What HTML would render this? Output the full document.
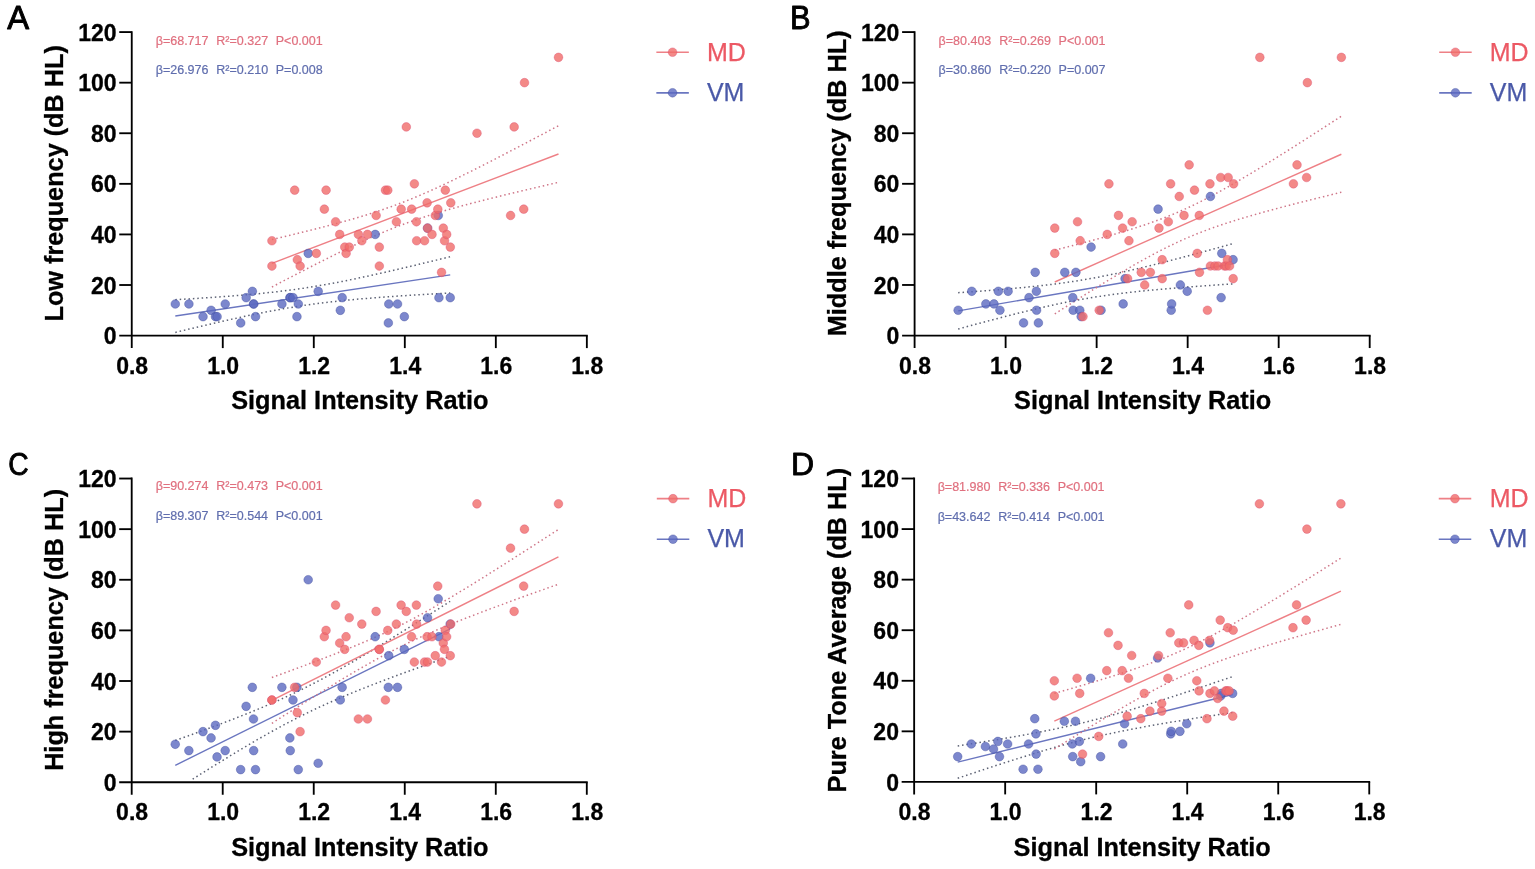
<!DOCTYPE html>
<html lang="en">
<head>
<meta charset="utf-8">
<title>Signal intensity ratio versus hearing thresholds in MD and VM</title>
<style>
html,body{margin:0;padding:0;background:#fff;}
body{width:1535px;height:869px;overflow:hidden;font-family:"Liberation Sans",sans-serif;}
svg{display:block;}
</style>
</head>
<body>
<svg width="1535" height="869" viewBox="0 0 1535 869" role="img" aria-label="Scatter plots of signal intensity ratio versus hearing thresholds for MD and VM groups">
<rect width="1535" height="869" fill="#fff"/>
<g id="panelA">
<line x1="175.30" y1="316.06" x2="450.23" y2="274.85" stroke="#6a76c0" stroke-width="1.4"/>
<polyline points="175.30,299.70 178.78,299.50 182.26,299.30 185.74,299.09 189.22,298.88 192.70,298.67 196.18,298.45 199.66,298.23 203.14,298.00 206.62,297.78 210.10,297.54 213.58,297.31 217.06,297.07 220.54,296.82 224.02,296.57 227.50,296.31 230.98,296.04 234.46,295.77 237.94,295.49 241.42,295.21 244.90,294.91 248.38,294.61 251.86,294.30 255.34,293.98 258.82,293.65 262.30,293.30 265.79,292.95 269.27,292.58 272.75,292.20 276.23,291.81 279.71,291.40 283.19,290.98 286.67,290.54 290.15,290.09 293.63,289.62 297.11,289.14 300.59,288.64 304.07,288.12 307.55,287.59 311.03,287.04 314.51,286.47 317.99,285.89 321.47,285.29 324.95,284.68 328.43,284.05 331.91,283.41 335.39,282.75 338.87,282.08 342.35,281.40 345.83,280.71 349.31,280.00 352.79,279.29 356.27,278.56 359.75,277.83 363.23,277.08 366.71,276.33 370.19,275.57 373.67,274.80 377.15,274.03 380.63,273.24 384.11,272.46 387.59,271.66 391.07,270.86 394.55,270.06 398.03,269.25 401.51,268.44 404.99,267.62 408.47,266.80 411.95,265.98 415.43,265.15 418.91,264.32 422.39,263.48 425.87,262.65 429.35,261.81 432.83,260.96 436.31,260.12 439.79,259.27 443.27,258.42 446.75,257.57 450.23,256.72" fill="none" stroke="#5d6274" stroke-width="1.5" stroke-dasharray="1.5 2.9"/>
<polyline points="175.30,332.42 178.78,331.58 182.26,330.74 185.74,329.91 189.22,329.07 192.70,328.24 196.18,327.42 199.66,326.59 203.14,325.77 206.62,324.96 210.10,324.15 213.58,323.34 217.06,322.54 220.54,321.74 224.02,320.95 227.50,320.17 230.98,319.39 234.46,318.62 237.94,317.85 241.42,317.09 244.90,316.34 248.38,315.60 251.86,314.87 255.34,314.15 258.82,313.44 262.30,312.74 265.79,312.05 269.27,311.37 272.75,310.71 276.23,310.06 279.71,309.42 283.19,308.80 286.67,308.19 290.15,307.60 293.63,307.03 297.11,306.47 300.59,305.93 304.07,305.40 307.55,304.89 311.03,304.40 314.51,303.92 317.99,303.46 321.47,303.01 324.95,302.58 328.43,302.17 331.91,301.76 335.39,301.38 338.87,301.00 342.35,300.64 345.83,300.29 349.31,299.95 352.79,299.63 356.27,299.31 359.75,299.00 363.23,298.70 366.71,298.41 370.19,298.13 373.67,297.85 377.15,297.58 380.63,297.32 384.11,297.07 387.59,296.82 391.07,296.57 394.55,296.33 398.03,296.10 401.51,295.87 404.99,295.64 408.47,295.42 411.95,295.20 415.43,294.98 418.91,294.77 422.39,294.56 425.87,294.36 429.35,294.15 432.83,293.95 436.31,293.75 439.79,293.55 443.27,293.36 446.75,293.17 450.23,292.98" fill="none" stroke="#5d6274" stroke-width="1.5" stroke-dasharray="1.5 2.9"/>
<line x1="271.92" y1="263.29" x2="558.50" y2="154.01" stroke="#ee8086" stroke-width="1.4"/>
<polyline points="271.92,239.56 275.55,238.71 279.18,237.84 282.80,236.98 286.43,236.11 290.06,235.24 293.69,234.36 297.31,233.47 300.94,232.58 304.57,231.69 308.20,230.79 311.82,229.88 315.45,228.97 319.08,228.05 322.71,227.11 326.33,226.17 329.96,225.23 333.59,224.26 337.22,223.29 340.84,222.31 344.47,221.31 348.10,220.30 351.73,219.27 355.35,218.22 358.98,217.16 362.61,216.07 366.24,214.96 369.86,213.83 373.49,212.68 377.12,211.50 380.75,210.29 384.37,209.06 388.00,207.79 391.63,206.50 395.26,205.17 398.89,203.81 402.51,202.42 406.14,201.00 409.77,199.54 413.40,198.06 417.02,196.54 420.65,195.00 424.28,193.42 427.91,191.82 431.53,190.20 435.16,188.55 438.79,186.88 442.42,185.19 446.04,183.48 449.67,181.75 453.30,180.01 456.93,178.25 460.55,176.47 464.18,174.68 467.81,172.88 471.44,171.07 475.06,169.25 478.69,167.42 482.32,165.58 485.95,163.73 489.57,161.87 493.20,160.01 496.83,158.14 500.46,156.27 504.08,154.39 507.71,152.50 511.34,150.61 514.97,148.72 518.59,146.82 522.22,144.91 525.85,143.01 529.48,141.10 533.10,139.19 536.73,137.27 540.36,135.35 543.99,133.43 547.61,131.51 551.24,129.58 554.87,127.65 558.50,125.72" fill="none" stroke="#cf7688" stroke-width="1.5" stroke-dasharray="1.5 2.9"/>
<polyline points="271.92,287.02 275.55,285.11 279.18,283.21 282.80,281.31 286.43,279.41 290.06,277.52 293.69,275.63 297.31,273.75 300.94,271.87 304.57,270.00 308.20,268.13 311.82,266.27 315.45,264.42 319.08,262.57 322.71,260.74 326.33,258.91 329.96,257.09 333.59,255.29 337.22,253.49 340.84,251.71 344.47,249.94 348.10,248.19 351.73,246.45 355.35,244.73 358.98,243.03 362.61,241.35 366.24,239.69 369.86,238.05 373.49,236.44 377.12,234.85 380.75,233.29 384.37,231.76 388.00,230.26 391.63,228.79 395.26,227.35 398.89,225.94 402.51,224.57 406.14,223.22 409.77,221.91 413.40,220.63 417.02,219.38 420.65,218.16 424.28,216.96 427.91,215.80 431.53,214.65 435.16,213.54 438.79,212.44 442.42,211.36 446.04,210.31 449.67,209.27 453.30,208.25 456.93,207.24 460.55,206.25 464.18,205.27 467.81,204.31 471.44,203.35 475.06,202.41 478.69,201.47 482.32,200.54 485.95,199.63 489.57,198.71 493.20,197.81 496.83,196.91 500.46,196.02 504.08,195.13 507.71,194.25 511.34,193.38 514.97,192.51 518.59,191.64 522.22,190.77 525.85,189.91 529.48,189.06 533.10,188.20 536.73,187.35 540.36,186.51 543.99,185.66 547.61,184.82 551.24,183.98 554.87,183.14 558.50,182.30" fill="none" stroke="#cf7688" stroke-width="1.5" stroke-dasharray="1.5 2.9"/>
<g fill="#5b69c0" fill-opacity="0.8" stroke="#3a4799" stroke-opacity="0.55" stroke-width="0.7">
<circle cx="175.30" cy="303.98" r="4.35"/>
<circle cx="188.91" cy="303.98" r="4.35"/>
<circle cx="203.02" cy="316.63" r="4.35"/>
<circle cx="211.12" cy="310.31" r="4.35"/>
<circle cx="215.49" cy="316.63" r="4.35"/>
<circle cx="217.08" cy="316.63" r="4.35"/>
<circle cx="225.23" cy="303.98" r="4.35"/>
<circle cx="240.70" cy="322.95" r="4.35"/>
<circle cx="246.16" cy="297.66" r="4.35"/>
<circle cx="252.35" cy="291.34" r="4.35"/>
<circle cx="253.53" cy="303.98" r="4.35"/>
<circle cx="253.72" cy="303.98" r="4.35"/>
<circle cx="255.54" cy="316.63" r="4.35"/>
<circle cx="281.93" cy="303.98" r="4.35"/>
<circle cx="289.90" cy="297.66" r="4.35"/>
<circle cx="290.31" cy="297.66" r="4.35"/>
<circle cx="293.04" cy="297.66" r="4.35"/>
<circle cx="296.95" cy="316.63" r="4.35"/>
<circle cx="298.32" cy="303.98" r="4.35"/>
<circle cx="308.24" cy="253.40" r="4.35"/>
<circle cx="318.20" cy="291.34" r="4.35"/>
<circle cx="340.32" cy="310.31" r="4.35"/>
<circle cx="342.19" cy="297.66" r="4.35"/>
<circle cx="375.23" cy="234.43" r="4.35"/>
<circle cx="388.34" cy="322.95" r="4.35"/>
<circle cx="388.79" cy="303.98" r="4.35"/>
<circle cx="397.53" cy="303.98" r="4.35"/>
<circle cx="404.35" cy="316.63" r="4.35"/>
<circle cx="427.56" cy="228.10" r="4.35"/>
<circle cx="438.26" cy="215.46" r="4.35"/>
<circle cx="438.94" cy="297.66" r="4.35"/>
<circle cx="450.23" cy="297.66" r="4.35"/>
</g>
<g fill="#f06c69" fill-opacity="0.8" stroke="#d94a70" stroke-opacity="0.55" stroke-width="0.7">
<circle cx="271.92" cy="266.04" r="4.35"/>
<circle cx="271.92" cy="240.75" r="4.35"/>
<circle cx="294.68" cy="190.16" r="4.35"/>
<circle cx="297.32" cy="259.72" r="4.35"/>
<circle cx="300.14" cy="266.04" r="4.35"/>
<circle cx="316.34" cy="253.40" r="4.35"/>
<circle cx="324.35" cy="209.13" r="4.35"/>
<circle cx="326.08" cy="190.16" r="4.35"/>
<circle cx="335.63" cy="221.78" r="4.35"/>
<circle cx="339.73" cy="234.43" r="4.35"/>
<circle cx="344.74" cy="247.07" r="4.35"/>
<circle cx="346.10" cy="253.40" r="4.35"/>
<circle cx="349.29" cy="247.07" r="4.35"/>
<circle cx="358.39" cy="234.43" r="4.35"/>
<circle cx="361.85" cy="240.75" r="4.35"/>
<circle cx="367.49" cy="234.43" r="4.35"/>
<circle cx="376.14" cy="215.46" r="4.35"/>
<circle cx="379.32" cy="247.07" r="4.35"/>
<circle cx="379.32" cy="266.04" r="4.35"/>
<circle cx="385.47" cy="190.16" r="4.35"/>
<circle cx="387.79" cy="190.16" r="4.35"/>
<circle cx="396.39" cy="221.78" r="4.35"/>
<circle cx="401.17" cy="209.13" r="4.35"/>
<circle cx="406.31" cy="126.93" r="4.35"/>
<circle cx="411.64" cy="209.13" r="4.35"/>
<circle cx="414.37" cy="183.84" r="4.35"/>
<circle cx="416.42" cy="221.78" r="4.35"/>
<circle cx="416.64" cy="240.75" r="4.35"/>
<circle cx="424.56" cy="240.75" r="4.35"/>
<circle cx="427.11" cy="202.81" r="4.35"/>
<circle cx="427.56" cy="228.10" r="4.35"/>
<circle cx="432.02" cy="234.43" r="4.35"/>
<circle cx="435.30" cy="215.46" r="4.35"/>
<circle cx="437.80" cy="209.13" r="4.35"/>
<circle cx="441.54" cy="272.37" r="4.35"/>
<circle cx="443.31" cy="228.10" r="4.35"/>
<circle cx="444.54" cy="240.75" r="4.35"/>
<circle cx="445.31" cy="190.16" r="4.35"/>
<circle cx="446.68" cy="234.43" r="4.35"/>
<circle cx="450.32" cy="247.07" r="4.35"/>
<circle cx="450.78" cy="202.81" r="4.35"/>
<circle cx="476.99" cy="133.25" r="4.35"/>
<circle cx="510.58" cy="215.46" r="4.35"/>
<circle cx="514.17" cy="126.93" r="4.35"/>
<circle cx="523.73" cy="209.13" r="4.35"/>
<circle cx="524.50" cy="82.67" r="4.35"/>
<circle cx="558.50" cy="57.37" r="4.35"/>
</g>
<g stroke="#000" stroke-width="1.85" fill="none">
<path d="M131.75 31.15V348.10"/>
<path d="M119.25 335.60H587.77"/>
<path d="M119.25 285.01H131.75"/>
<path d="M119.25 234.43H131.75"/>
<path d="M119.25 183.84H131.75"/>
<path d="M119.25 133.25H131.75"/>
<path d="M119.25 82.67H131.75"/>
<path d="M119.25 32.08H131.75"/>
<path d="M222.77 335.60V348.10"/>
<path d="M313.79 335.60V348.10"/>
<path d="M404.81 335.60V348.10"/>
<path d="M495.83 335.60V348.10"/>
<path d="M586.85 335.60V348.10"/>
</g>
<g font-family="'Liberation Sans', sans-serif" font-weight="bold" font-size="23" fill="#000" stroke="#000" stroke-width="0.3">
<text x="116.55" y="344.20" text-anchor="end">0</text>
<text x="116.55" y="293.61" text-anchor="end">20</text>
<text x="116.55" y="243.03" text-anchor="end">40</text>
<text x="116.55" y="192.44" text-anchor="end">60</text>
<text x="116.55" y="141.85" text-anchor="end">80</text>
<text x="116.55" y="91.27" text-anchor="end">100</text>
<text x="116.55" y="40.68" text-anchor="end">120</text>
<text x="132.15" y="373.60" text-anchor="middle">0.8</text>
<text x="223.17" y="373.60" text-anchor="middle">1.0</text>
<text x="314.19" y="373.60" text-anchor="middle">1.2</text>
<text x="405.21" y="373.60" text-anchor="middle">1.4</text>
<text x="496.23" y="373.60" text-anchor="middle">1.6</text>
<text x="587.25" y="373.60" text-anchor="middle">1.8</text>
</g>
<g font-family="'Liberation Sans', sans-serif" font-weight="bold" font-size="25.3" fill="#000" stroke="#000" stroke-width="0.3">
<text x="359.80" y="409.20" text-anchor="middle">Signal Intensity Ratio</text>
<text transform="translate(63.05 183.34) rotate(-90)" text-anchor="middle" font-size="25.25">Low frequency (dB HL)</text>
</g>
<text font-family="'Liberation Sans', sans-serif" font-size="12.5" fill="#e0707f" stroke="#e0707f" stroke-width="0.2" y="45.08"><tspan x="155.75">β=68.717</tspan><tspan x="216.35">R²=0.327</tspan><tspan x="275.75">P<0.001</tspan></text>
<text font-family="'Liberation Sans', sans-serif" font-size="12.5" fill="#606eae" stroke="#606eae" stroke-width="0.2" y="73.88"><tspan x="155.75">β=26.976</tspan><tspan x="216.35">R²=0.210</tspan><tspan x="275.75">P=0.008</tspan></text>
<line x1="656.35" y1="52.23" x2="688.85" y2="52.23" stroke="#ee8086" stroke-width="1.7"/>
<circle cx="672.55" cy="52.23" r="4.35" fill="#f06c69" fill-opacity="0.8" stroke="#d94a70" stroke-opacity="0.55" stroke-width="0.7"/>
<text x="706.95" y="61.33" font-family="'Liberation Sans', sans-serif" font-size="25" fill="#ec5964" stroke="#ec5964" stroke-width="0.25">MD</text>
<line x1="656.35" y1="92.78" x2="688.85" y2="92.78" stroke="#6a76c0" stroke-width="1.7"/>
<circle cx="672.55" cy="92.78" r="4.35" fill="#5b69c0" fill-opacity="0.8" stroke="#3a4799" stroke-opacity="0.55" stroke-width="0.7"/>
<text x="706.95" y="101.38" font-family="'Liberation Sans', sans-serif" font-size="25" fill="#4a59a8" stroke="#4a59a8" stroke-width="0.25">VM</text>
<text transform="translate(7.30 29.00) scale(1 1)" font-family="'Liberation Sans', sans-serif" font-size="32.8" fill="#000" stroke="#000" stroke-width="0.9" stroke-linejoin="round">A</text>
</g>
<g id="panelB">
<line x1="958.15" y1="310.89" x2="1233.08" y2="263.73" stroke="#6a76c0" stroke-width="1.4"/>
<polyline points="958.15,292.71 961.63,292.47 965.11,292.23 968.59,291.98 972.07,291.73 975.55,291.47 979.03,291.21 982.51,290.95 985.99,290.69 989.47,290.41 992.95,290.14 996.43,289.86 999.91,289.57 1003.39,289.28 1006.87,288.98 1010.35,288.68 1013.83,288.37 1017.31,288.05 1020.79,287.72 1024.27,287.39 1027.75,287.04 1031.23,286.69 1034.71,286.33 1038.19,285.95 1041.67,285.57 1045.15,285.17 1048.64,284.76 1052.12,284.33 1055.60,283.89 1059.08,283.44 1062.56,282.97 1066.04,282.48 1069.52,281.98 1073.00,281.46 1076.48,280.92 1079.96,280.37 1083.44,279.79 1086.92,279.20 1090.40,278.59 1093.88,277.96 1097.36,277.32 1100.84,276.65 1104.32,275.97 1107.80,275.27 1111.28,274.56 1114.76,273.83 1118.24,273.08 1121.72,272.32 1125.20,271.55 1128.68,270.76 1132.16,269.96 1135.64,269.14 1139.12,268.32 1142.60,267.49 1146.08,266.64 1149.56,265.79 1153.04,264.93 1156.52,264.05 1160.00,263.18 1163.48,262.29 1166.96,261.40 1170.44,260.50 1173.92,259.59 1177.40,258.68 1180.88,257.77 1184.36,256.85 1187.84,255.92 1191.32,254.99 1194.80,254.06 1198.28,253.12 1201.76,252.18 1205.24,251.24 1208.72,250.29 1212.20,249.34 1215.68,248.39 1219.16,247.43 1222.64,246.47 1226.12,245.51 1229.60,244.55 1233.08,243.59" fill="none" stroke="#5d6274" stroke-width="1.5" stroke-dasharray="1.5 2.9"/>
<polyline points="958.15,329.06 961.63,328.11 965.11,327.16 968.59,326.21 972.07,325.27 975.55,324.33 979.03,323.39 982.51,322.46 985.99,321.53 989.47,320.61 992.95,319.69 996.43,318.78 999.91,317.87 1003.39,316.97 1006.87,316.07 1010.35,315.18 1013.83,314.30 1017.31,313.43 1020.79,312.56 1024.27,311.70 1027.75,310.85 1031.23,310.01 1034.71,309.18 1038.19,308.36 1041.67,307.55 1045.15,306.76 1048.64,305.97 1052.12,305.21 1055.60,304.45 1059.08,303.71 1062.56,302.99 1066.04,302.28 1069.52,301.59 1073.00,300.91 1076.48,300.26 1079.96,299.62 1083.44,299.00 1086.92,298.39 1090.40,297.81 1093.88,297.24 1097.36,296.70 1100.84,296.17 1104.32,295.65 1107.80,295.16 1111.28,294.68 1114.76,294.22 1118.24,293.77 1121.72,293.34 1125.20,292.92 1128.68,292.51 1132.16,292.12 1135.64,291.74 1139.12,291.37 1142.60,291.01 1146.08,290.66 1149.56,290.32 1153.04,289.99 1156.52,289.66 1160.00,289.35 1163.48,289.04 1166.96,288.74 1170.44,288.44 1173.92,288.15 1177.40,287.87 1180.88,287.59 1184.36,287.32 1187.84,287.05 1191.32,286.78 1194.80,286.52 1198.28,286.27 1201.76,286.01 1205.24,285.76 1208.72,285.52 1212.20,285.27 1215.68,285.03 1219.16,284.79 1222.64,284.56 1226.12,284.32 1229.60,284.09 1233.08,283.86" fill="none" stroke="#5d6274" stroke-width="1.5" stroke-dasharray="1.5 2.9"/>
<line x1="1054.77" y1="282.01" x2="1341.35" y2="154.24" stroke="#ee8086" stroke-width="1.4"/>
<polyline points="1054.77,250.11 1058.40,249.19 1062.03,248.28 1065.65,247.36 1069.28,246.43 1072.91,245.50 1076.54,244.56 1080.16,243.61 1083.79,242.66 1087.42,241.70 1091.05,240.73 1094.67,239.76 1098.30,238.77 1101.93,237.77 1105.56,236.76 1109.18,235.74 1112.81,234.71 1116.44,233.66 1120.07,232.59 1123.69,231.51 1127.32,230.41 1130.95,229.29 1134.58,228.15 1138.20,226.99 1141.83,225.80 1145.46,224.58 1149.09,223.34 1152.71,222.06 1156.34,220.75 1159.97,219.41 1163.60,218.03 1167.22,216.61 1170.85,215.15 1174.48,213.65 1178.11,212.11 1181.74,210.52 1185.36,208.89 1188.99,207.22 1192.62,205.51 1196.25,203.76 1199.87,201.96 1203.50,200.13 1207.13,198.26 1210.76,196.35 1214.38,194.41 1218.01,192.43 1221.64,190.43 1225.27,188.40 1228.89,186.34 1232.52,184.26 1236.15,182.16 1239.78,180.03 1243.40,177.89 1247.03,175.73 1250.66,173.55 1254.29,171.36 1257.91,169.15 1261.54,166.93 1265.17,164.70 1268.80,162.46 1272.42,160.20 1276.05,157.94 1279.68,155.67 1283.31,153.39 1286.93,151.11 1290.56,148.81 1294.19,146.52 1297.82,144.21 1301.44,141.90 1305.07,139.58 1308.70,137.26 1312.33,134.94 1315.95,132.61 1319.58,130.28 1323.21,127.94 1326.84,125.60 1330.46,123.25 1334.09,120.91 1337.72,118.56 1341.35,116.21" fill="none" stroke="#cf7688" stroke-width="1.5" stroke-dasharray="1.5 2.9"/>
<polyline points="1054.77,313.91 1058.40,311.58 1062.03,309.27 1065.65,306.95 1069.28,304.65 1072.91,302.34 1076.54,300.05 1080.16,297.76 1083.79,295.48 1087.42,293.20 1091.05,290.93 1094.67,288.68 1098.30,286.43 1101.93,284.19 1105.56,281.97 1109.18,279.75 1112.81,277.55 1116.44,275.37 1120.07,273.20 1123.69,271.04 1127.32,268.91 1130.95,266.79 1134.58,264.70 1138.20,262.63 1141.83,260.59 1145.46,258.57 1149.09,256.58 1152.71,254.62 1156.34,252.69 1159.97,250.80 1163.60,248.95 1167.22,247.13 1170.85,245.36 1174.48,243.62 1178.11,241.93 1181.74,240.28 1185.36,238.67 1188.99,237.11 1192.62,235.59 1196.25,234.11 1199.87,232.67 1203.50,231.27 1207.13,229.90 1210.76,228.58 1214.38,227.28 1218.01,226.02 1221.64,224.79 1225.27,223.59 1228.89,222.41 1232.52,221.26 1236.15,220.13 1239.78,219.02 1243.40,217.93 1247.03,216.85 1250.66,215.80 1254.29,214.75 1257.91,213.73 1261.54,212.71 1265.17,211.71 1268.80,210.71 1272.42,209.73 1276.05,208.76 1279.68,207.79 1283.31,206.84 1286.93,205.89 1290.56,204.95 1294.19,204.01 1297.82,203.08 1301.44,202.16 1305.07,201.24 1308.70,200.33 1312.33,199.42 1315.95,198.51 1319.58,197.61 1323.21,196.71 1326.84,195.82 1330.46,194.93 1334.09,194.04 1337.72,193.15 1341.35,192.27" fill="none" stroke="#cf7688" stroke-width="1.5" stroke-dasharray="1.5 2.9"/>
<g fill="#5b69c0" fill-opacity="0.8" stroke="#3a4799" stroke-opacity="0.55" stroke-width="0.7">
<circle cx="958.15" cy="310.26" r="4.35"/>
<circle cx="971.76" cy="291.29" r="4.35"/>
<circle cx="985.87" cy="303.94" r="4.35"/>
<circle cx="993.97" cy="303.94" r="4.35"/>
<circle cx="998.34" cy="291.29" r="4.35"/>
<circle cx="999.93" cy="310.26" r="4.35"/>
<circle cx="1008.08" cy="291.29" r="4.35"/>
<circle cx="1023.55" cy="322.91" r="4.35"/>
<circle cx="1029.01" cy="297.62" r="4.35"/>
<circle cx="1035.20" cy="272.33" r="4.35"/>
<circle cx="1036.38" cy="291.29" r="4.35"/>
<circle cx="1036.57" cy="310.26" r="4.35"/>
<circle cx="1038.39" cy="322.91" r="4.35"/>
<circle cx="1064.78" cy="272.33" r="4.35"/>
<circle cx="1072.75" cy="297.62" r="4.35"/>
<circle cx="1073.16" cy="310.26" r="4.35"/>
<circle cx="1075.89" cy="272.33" r="4.35"/>
<circle cx="1079.80" cy="310.26" r="4.35"/>
<circle cx="1081.17" cy="316.58" r="4.35"/>
<circle cx="1091.09" cy="247.04" r="4.35"/>
<circle cx="1101.05" cy="310.26" r="4.35"/>
<circle cx="1123.17" cy="303.94" r="4.35"/>
<circle cx="1125.04" cy="278.65" r="4.35"/>
<circle cx="1158.08" cy="209.10" r="4.35"/>
<circle cx="1171.19" cy="310.26" r="4.35"/>
<circle cx="1171.64" cy="303.94" r="4.35"/>
<circle cx="1180.38" cy="284.97" r="4.35"/>
<circle cx="1187.20" cy="291.29" r="4.35"/>
<circle cx="1210.41" cy="196.46" r="4.35"/>
<circle cx="1221.11" cy="297.62" r="4.35"/>
<circle cx="1221.79" cy="253.36" r="4.35"/>
<circle cx="1233.08" cy="259.68" r="4.35"/>
</g>
<g fill="#f06c69" fill-opacity="0.8" stroke="#d94a70" stroke-opacity="0.55" stroke-width="0.7">
<circle cx="1054.77" cy="228.07" r="4.35"/>
<circle cx="1054.77" cy="253.36" r="4.35"/>
<circle cx="1077.53" cy="221.75" r="4.35"/>
<circle cx="1080.17" cy="240.72" r="4.35"/>
<circle cx="1082.99" cy="316.58" r="4.35"/>
<circle cx="1099.19" cy="310.26" r="4.35"/>
<circle cx="1107.20" cy="234.39" r="4.35"/>
<circle cx="1108.93" cy="183.81" r="4.35"/>
<circle cx="1118.48" cy="215.43" r="4.35"/>
<circle cx="1122.58" cy="228.07" r="4.35"/>
<circle cx="1127.59" cy="278.65" r="4.35"/>
<circle cx="1128.95" cy="240.72" r="4.35"/>
<circle cx="1132.14" cy="221.75" r="4.35"/>
<circle cx="1141.24" cy="272.33" r="4.35"/>
<circle cx="1144.70" cy="284.97" r="4.35"/>
<circle cx="1150.34" cy="272.33" r="4.35"/>
<circle cx="1158.99" cy="228.07" r="4.35"/>
<circle cx="1162.17" cy="259.68" r="4.35"/>
<circle cx="1162.17" cy="278.65" r="4.35"/>
<circle cx="1168.32" cy="221.75" r="4.35"/>
<circle cx="1170.64" cy="183.81" r="4.35"/>
<circle cx="1179.24" cy="196.46" r="4.35"/>
<circle cx="1184.02" cy="215.43" r="4.35"/>
<circle cx="1189.16" cy="164.85" r="4.35"/>
<circle cx="1194.49" cy="190.14" r="4.35"/>
<circle cx="1197.22" cy="253.36" r="4.35"/>
<circle cx="1199.27" cy="215.43" r="4.35"/>
<circle cx="1199.49" cy="272.33" r="4.35"/>
<circle cx="1207.41" cy="310.26" r="4.35"/>
<circle cx="1209.96" cy="183.81" r="4.35"/>
<circle cx="1210.41" cy="266.00" r="4.35"/>
<circle cx="1214.87" cy="266.00" r="4.35"/>
<circle cx="1218.15" cy="266.00" r="4.35"/>
<circle cx="1220.65" cy="177.49" r="4.35"/>
<circle cx="1224.39" cy="266.00" r="4.35"/>
<circle cx="1226.16" cy="266.00" r="4.35"/>
<circle cx="1227.39" cy="259.68" r="4.35"/>
<circle cx="1228.16" cy="177.49" r="4.35"/>
<circle cx="1229.53" cy="266.00" r="4.35"/>
<circle cx="1233.17" cy="278.65" r="4.35"/>
<circle cx="1233.63" cy="183.81" r="4.35"/>
<circle cx="1259.84" cy="57.37" r="4.35"/>
<circle cx="1293.43" cy="183.81" r="4.35"/>
<circle cx="1297.02" cy="164.85" r="4.35"/>
<circle cx="1306.58" cy="177.49" r="4.35"/>
<circle cx="1307.35" cy="82.66" r="4.35"/>
<circle cx="1341.35" cy="57.37" r="4.35"/>
</g>
<g stroke="#000" stroke-width="1.85" fill="none">
<path d="M914.60 31.15V348.05"/>
<path d="M902.10 335.55H1370.62"/>
<path d="M902.10 284.97H914.60"/>
<path d="M902.10 234.39H914.60"/>
<path d="M902.10 183.81H914.60"/>
<path d="M902.10 133.24H914.60"/>
<path d="M902.10 82.66H914.60"/>
<path d="M902.10 32.08H914.60"/>
<path d="M1005.62 335.55V348.05"/>
<path d="M1096.64 335.55V348.05"/>
<path d="M1187.66 335.55V348.05"/>
<path d="M1278.68 335.55V348.05"/>
<path d="M1369.70 335.55V348.05"/>
</g>
<g font-family="'Liberation Sans', sans-serif" font-weight="bold" font-size="23" fill="#000" stroke="#000" stroke-width="0.3">
<text x="899.40" y="344.15" text-anchor="end">0</text>
<text x="899.40" y="293.57" text-anchor="end">20</text>
<text x="899.40" y="242.99" text-anchor="end">40</text>
<text x="899.40" y="192.41" text-anchor="end">60</text>
<text x="899.40" y="141.84" text-anchor="end">80</text>
<text x="899.40" y="91.26" text-anchor="end">100</text>
<text x="899.40" y="40.68" text-anchor="end">120</text>
<text x="915.00" y="373.55" text-anchor="middle">0.8</text>
<text x="1006.02" y="373.55" text-anchor="middle">1.0</text>
<text x="1097.04" y="373.55" text-anchor="middle">1.2</text>
<text x="1188.06" y="373.55" text-anchor="middle">1.4</text>
<text x="1279.08" y="373.55" text-anchor="middle">1.6</text>
<text x="1370.10" y="373.55" text-anchor="middle">1.8</text>
</g>
<g font-family="'Liberation Sans', sans-serif" font-weight="bold" font-size="25.3" fill="#000" stroke="#000" stroke-width="0.3">
<text x="1142.65" y="409.15" text-anchor="middle">Signal Intensity Ratio</text>
<text transform="translate(845.90 183.31) rotate(-90)" text-anchor="middle" font-size="25.25">Middle frequency (dB HL)</text>
</g>
<text font-family="'Liberation Sans', sans-serif" font-size="12.5" fill="#e0707f" stroke="#e0707f" stroke-width="0.2" y="45.08"><tspan x="938.60">β=80.403</tspan><tspan x="999.20">R²=0.269</tspan><tspan x="1058.60">P<0.001</tspan></text>
<text font-family="'Liberation Sans', sans-serif" font-size="12.5" fill="#606eae" stroke="#606eae" stroke-width="0.2" y="73.88"><tspan x="938.60">β=30.860</tspan><tspan x="999.20">R²=0.220</tspan><tspan x="1058.60">P=0.007</tspan></text>
<line x1="1439.20" y1="52.23" x2="1471.70" y2="52.23" stroke="#ee8086" stroke-width="1.7"/>
<circle cx="1455.40" cy="52.23" r="4.35" fill="#f06c69" fill-opacity="0.8" stroke="#d94a70" stroke-opacity="0.55" stroke-width="0.7"/>
<text x="1489.80" y="61.33" font-family="'Liberation Sans', sans-serif" font-size="25" fill="#ec5964" stroke="#ec5964" stroke-width="0.25">MD</text>
<line x1="1439.20" y1="92.78" x2="1471.70" y2="92.78" stroke="#6a76c0" stroke-width="1.7"/>
<circle cx="1455.40" cy="92.78" r="4.35" fill="#5b69c0" fill-opacity="0.8" stroke="#3a4799" stroke-opacity="0.55" stroke-width="0.7"/>
<text x="1489.80" y="101.38" font-family="'Liberation Sans', sans-serif" font-size="25" fill="#4a59a8" stroke="#4a59a8" stroke-width="0.25">VM</text>
<text transform="translate(790.10 29.00) scale(0.94 1)" font-family="'Liberation Sans', sans-serif" font-size="32.8" fill="#000" stroke="#000" stroke-width="0.9" stroke-linejoin="round">B</text>
</g>
<g id="panelC">
<line x1="175.25" y1="765.36" x2="450.18" y2="628.82" stroke="#6a76c0" stroke-width="1.4"/>
<polyline points="175.25,740.54 178.73,739.30 182.21,738.05 185.69,736.80 189.17,735.54 192.65,734.28 196.13,733.02 199.61,731.75 203.09,730.47 206.57,729.19 210.05,727.90 213.53,726.60 217.01,725.30 220.49,723.99 223.97,722.67 227.45,721.34 230.93,720.00 234.41,718.65 237.89,717.29 241.37,715.92 244.85,714.54 248.33,713.14 251.81,711.73 255.29,710.31 258.77,708.87 262.25,707.41 265.74,705.93 269.22,704.44 272.70,702.93 276.18,701.39 279.66,699.84 283.14,698.26 286.62,696.66 290.10,695.04 293.58,693.39 297.06,691.72 300.54,690.03 304.02,688.31 307.50,686.56 310.98,684.79 314.46,682.99 317.94,681.17 321.42,679.33 324.90,677.46 328.38,675.57 331.86,673.66 335.34,671.73 338.82,669.78 342.30,667.81 345.78,665.82 349.26,663.81 352.74,661.79 356.22,659.75 359.70,657.70 363.18,655.63 366.66,653.55 370.14,651.46 373.62,649.36 377.10,647.25 380.58,645.12 384.06,642.99 387.54,640.85 391.02,638.70 394.50,636.55 397.98,634.38 401.46,632.21 404.94,630.04 408.42,627.85 411.90,625.67 415.38,623.47 418.86,621.28 422.34,619.07 425.82,616.87 429.30,614.66 432.78,612.44 436.26,610.22 439.74,608.00 443.22,605.78 446.70,603.55 450.18,601.32" fill="none" stroke="#5d6274" stroke-width="1.5" stroke-dasharray="1.5 2.9"/>
<polyline points="192.65,779.15 196.13,776.96 199.61,774.77 203.09,772.60 206.57,770.42 210.05,768.25 213.53,766.09 217.01,763.94 220.49,761.80 223.97,759.66 227.45,757.53 230.93,755.41 234.41,753.30 237.89,751.21 241.37,749.12 244.85,747.05 248.33,744.99 251.81,742.94 255.29,740.91 258.77,738.89 262.25,736.89 265.74,734.91 269.22,732.95 272.70,731.00 276.18,729.08 279.66,727.18 283.14,725.30 286.62,723.44 290.10,721.61 293.58,719.80 297.06,718.01 300.54,716.25 304.02,714.51 307.50,712.80 310.98,711.12 314.46,709.46 317.94,707.82 321.42,706.21 324.90,704.62 328.38,703.05 331.86,701.51 335.34,699.98 338.82,698.48 342.30,696.99 345.78,695.52 349.26,694.07 352.74,692.64 356.22,691.22 359.70,689.82 363.18,688.43 366.66,687.05 370.14,685.68 373.62,684.33 377.10,682.98 380.58,681.65 384.06,680.32 387.54,679.01 391.02,677.70 394.50,676.40 397.98,675.11 401.46,673.82 404.94,672.54 408.42,671.27 411.90,670.00 415.38,668.73 418.86,667.47 422.34,666.22 425.82,664.97 429.30,663.72 432.78,662.48 436.26,661.24 439.74,660.01 443.22,658.78 446.70,657.55 450.18,656.32" fill="none" stroke="#5d6274" stroke-width="1.5" stroke-dasharray="1.5 2.9"/>
<line x1="271.87" y1="700.40" x2="558.45" y2="556.82" stroke="#ee8086" stroke-width="1.4"/>
<polyline points="271.87,677.44 275.50,676.13 279.13,674.82 282.75,673.50 286.38,672.18 290.01,670.86 293.64,669.53 297.26,668.20 300.89,666.86 304.52,665.51 308.15,664.16 311.77,662.81 315.40,661.44 319.03,660.07 322.66,658.69 326.28,657.30 329.91,655.90 333.54,654.50 337.17,653.08 340.79,651.64 344.42,650.20 348.05,648.74 351.68,647.27 355.30,645.77 358.93,644.26 362.56,642.73 366.19,641.19 369.81,639.61 373.44,638.02 377.07,636.40 380.70,634.75 384.32,633.08 387.95,631.37 391.58,629.64 395.21,627.88 398.84,626.08 402.46,624.26 406.09,622.40 409.72,620.51 413.35,618.60 416.97,616.65 420.60,614.68 424.23,612.68 427.86,610.65 431.48,608.60 435.11,606.53 438.74,604.43 442.37,602.32 445.99,600.18 449.62,598.03 453.25,595.86 456.88,593.68 460.50,591.48 464.13,589.28 467.76,587.05 471.39,584.82 475.01,582.58 478.64,580.33 482.27,578.07 485.90,575.80 489.52,573.53 493.15,571.25 496.78,568.96 500.41,566.67 504.03,564.37 507.66,562.07 511.29,559.76 514.92,557.45 518.54,555.13 522.17,552.81 525.80,550.48 529.43,548.16 533.05,545.83 536.68,543.50 540.31,541.16 543.94,538.82 547.56,536.48 551.19,534.14 554.82,531.79 558.45,529.45" fill="none" stroke="#cf7688" stroke-width="1.5" stroke-dasharray="1.5 2.9"/>
<polyline points="271.87,723.36 275.50,721.04 279.13,718.71 282.75,716.39 286.38,714.08 290.01,711.77 293.64,709.46 297.26,707.16 300.89,704.87 304.52,702.58 308.15,700.29 311.77,698.01 315.40,695.74 319.03,693.48 322.66,691.22 326.28,688.98 329.91,686.74 333.54,684.51 337.17,682.30 340.79,680.09 344.42,677.90 348.05,675.73 351.68,673.57 355.30,671.43 358.93,669.30 362.56,667.19 366.19,665.11 369.81,663.05 373.44,661.01 377.07,658.99 380.70,657.00 384.32,655.04 387.95,653.11 391.58,651.21 395.21,649.34 398.84,647.50 402.46,645.69 406.09,643.91 409.72,642.16 413.35,640.44 416.97,638.75 420.60,637.09 424.23,635.46 427.86,633.85 431.48,632.26 435.11,630.70 438.74,629.16 442.37,627.64 445.99,626.14 449.62,624.66 453.25,623.19 456.88,621.74 460.50,620.30 464.13,618.87 467.76,617.46 471.39,616.06 475.01,614.66 478.64,613.28 482.27,611.90 485.90,610.53 489.52,609.17 493.15,607.82 496.78,606.47 500.41,605.13 504.03,603.79 507.66,602.46 511.29,601.14 514.92,599.81 518.54,598.50 522.17,597.18 525.80,595.87 529.43,594.56 533.05,593.26 536.68,591.95 540.31,590.65 543.94,589.36 547.56,588.06 551.19,586.77 554.82,585.48 558.45,584.19" fill="none" stroke="#cf7688" stroke-width="1.5" stroke-dasharray="1.5 2.9"/>
<g fill="#5b69c0" fill-opacity="0.8" stroke="#3a4799" stroke-opacity="0.55" stroke-width="0.7">
<circle cx="175.25" cy="744.28" r="4.35"/>
<circle cx="188.86" cy="750.61" r="4.35"/>
<circle cx="202.97" cy="731.63" r="4.35"/>
<circle cx="211.07" cy="737.96" r="4.35"/>
<circle cx="215.44" cy="725.30" r="4.35"/>
<circle cx="217.03" cy="756.94" r="4.35"/>
<circle cx="225.18" cy="750.61" r="4.35"/>
<circle cx="240.65" cy="769.60" r="4.35"/>
<circle cx="246.11" cy="706.32" r="4.35"/>
<circle cx="252.30" cy="687.34" r="4.35"/>
<circle cx="253.48" cy="718.98" r="4.35"/>
<circle cx="253.67" cy="750.61" r="4.35"/>
<circle cx="255.49" cy="769.60" r="4.35"/>
<circle cx="281.88" cy="687.34" r="4.35"/>
<circle cx="289.85" cy="737.96" r="4.35"/>
<circle cx="290.26" cy="750.61" r="4.35"/>
<circle cx="292.99" cy="699.99" r="4.35"/>
<circle cx="296.90" cy="687.34" r="4.35"/>
<circle cx="298.27" cy="769.60" r="4.35"/>
<circle cx="308.19" cy="579.77" r="4.35"/>
<circle cx="318.15" cy="763.27" r="4.35"/>
<circle cx="340.27" cy="699.99" r="4.35"/>
<circle cx="342.14" cy="687.34" r="4.35"/>
<circle cx="375.18" cy="636.72" r="4.35"/>
<circle cx="388.29" cy="687.34" r="4.35"/>
<circle cx="388.74" cy="655.70" r="4.35"/>
<circle cx="397.48" cy="687.34" r="4.35"/>
<circle cx="404.30" cy="649.37" r="4.35"/>
<circle cx="427.51" cy="617.74" r="4.35"/>
<circle cx="438.21" cy="598.75" r="4.35"/>
<circle cx="438.89" cy="636.72" r="4.35"/>
<circle cx="450.18" cy="624.06" r="4.35"/>
</g>
<g fill="#f06c69" fill-opacity="0.8" stroke="#d94a70" stroke-opacity="0.55" stroke-width="0.7">
<circle cx="271.87" cy="699.99" r="4.35"/>
<circle cx="271.87" cy="699.99" r="4.35"/>
<circle cx="294.63" cy="687.34" r="4.35"/>
<circle cx="297.27" cy="712.65" r="4.35"/>
<circle cx="300.09" cy="731.63" r="4.35"/>
<circle cx="316.29" cy="662.03" r="4.35"/>
<circle cx="324.30" cy="636.72" r="4.35"/>
<circle cx="326.03" cy="630.39" r="4.35"/>
<circle cx="335.58" cy="605.08" r="4.35"/>
<circle cx="339.68" cy="643.04" r="4.35"/>
<circle cx="344.69" cy="649.37" r="4.35"/>
<circle cx="346.05" cy="636.72" r="4.35"/>
<circle cx="349.24" cy="617.74" r="4.35"/>
<circle cx="358.34" cy="718.98" r="4.35"/>
<circle cx="361.80" cy="624.06" r="4.35"/>
<circle cx="367.44" cy="718.98" r="4.35"/>
<circle cx="376.09" cy="611.41" r="4.35"/>
<circle cx="379.27" cy="649.37" r="4.35"/>
<circle cx="379.27" cy="649.37" r="4.35"/>
<circle cx="385.42" cy="699.99" r="4.35"/>
<circle cx="387.74" cy="630.39" r="4.35"/>
<circle cx="396.34" cy="624.06" r="4.35"/>
<circle cx="401.12" cy="605.08" r="4.35"/>
<circle cx="406.26" cy="611.41" r="4.35"/>
<circle cx="411.59" cy="636.72" r="4.35"/>
<circle cx="414.32" cy="662.03" r="4.35"/>
<circle cx="416.37" cy="605.08" r="4.35"/>
<circle cx="416.59" cy="624.06" r="4.35"/>
<circle cx="424.51" cy="662.03" r="4.35"/>
<circle cx="427.06" cy="636.72" r="4.35"/>
<circle cx="427.51" cy="662.03" r="4.35"/>
<circle cx="431.97" cy="636.72" r="4.35"/>
<circle cx="435.25" cy="655.70" r="4.35"/>
<circle cx="437.75" cy="586.10" r="4.35"/>
<circle cx="441.49" cy="662.03" r="4.35"/>
<circle cx="443.26" cy="643.04" r="4.35"/>
<circle cx="444.49" cy="649.37" r="4.35"/>
<circle cx="445.26" cy="630.39" r="4.35"/>
<circle cx="446.63" cy="636.72" r="4.35"/>
<circle cx="450.27" cy="655.70" r="4.35"/>
<circle cx="450.73" cy="624.06" r="4.35"/>
<circle cx="476.94" cy="503.84" r="4.35"/>
<circle cx="510.53" cy="548.13" r="4.35"/>
<circle cx="514.12" cy="611.41" r="4.35"/>
<circle cx="523.68" cy="586.10" r="4.35"/>
<circle cx="524.45" cy="529.15" r="4.35"/>
<circle cx="558.45" cy="503.84" r="4.35"/>
</g>
<g stroke="#000" stroke-width="1.85" fill="none">
<path d="M131.70 477.60V794.75"/>
<path d="M119.20 782.25H587.72"/>
<path d="M119.20 731.63H131.70"/>
<path d="M119.20 681.01H131.70"/>
<path d="M119.20 630.39H131.70"/>
<path d="M119.20 579.77H131.70"/>
<path d="M119.20 529.15H131.70"/>
<path d="M119.20 478.53H131.70"/>
<path d="M222.72 782.25V794.75"/>
<path d="M313.74 782.25V794.75"/>
<path d="M404.76 782.25V794.75"/>
<path d="M495.78 782.25V794.75"/>
<path d="M586.80 782.25V794.75"/>
</g>
<g font-family="'Liberation Sans', sans-serif" font-weight="bold" font-size="23" fill="#000" stroke="#000" stroke-width="0.3">
<text x="116.50" y="790.85" text-anchor="end">0</text>
<text x="116.50" y="740.23" text-anchor="end">20</text>
<text x="116.50" y="689.61" text-anchor="end">40</text>
<text x="116.50" y="638.99" text-anchor="end">60</text>
<text x="116.50" y="588.37" text-anchor="end">80</text>
<text x="116.50" y="537.75" text-anchor="end">100</text>
<text x="116.50" y="487.13" text-anchor="end">120</text>
<text x="132.10" y="820.25" text-anchor="middle">0.8</text>
<text x="223.12" y="820.25" text-anchor="middle">1.0</text>
<text x="314.14" y="820.25" text-anchor="middle">1.2</text>
<text x="405.16" y="820.25" text-anchor="middle">1.4</text>
<text x="496.18" y="820.25" text-anchor="middle">1.6</text>
<text x="587.20" y="820.25" text-anchor="middle">1.8</text>
</g>
<g font-family="'Liberation Sans', sans-serif" font-weight="bold" font-size="25.3" fill="#000" stroke="#000" stroke-width="0.3">
<text x="359.75" y="855.85" text-anchor="middle">Signal Intensity Ratio</text>
<text transform="translate(63.00 629.89) rotate(-90)" text-anchor="middle" font-size="25.25">High frequency (dB HL)</text>
</g>
<text font-family="'Liberation Sans', sans-serif" font-size="12.5" fill="#e0707f" stroke="#e0707f" stroke-width="0.2" y="490.03"><tspan x="155.70">β=90.274</tspan><tspan x="216.30">R²=0.473</tspan><tspan x="275.70">P<0.001</tspan></text>
<text font-family="'Liberation Sans', sans-serif" font-size="12.5" fill="#606eae" stroke="#606eae" stroke-width="0.2" y="519.73"><tspan x="155.70">β=89.307</tspan><tspan x="216.30">R²=0.544</tspan><tspan x="275.70">P<0.001</tspan></text>
<line x1="656.80" y1="498.68" x2="689.30" y2="498.68" stroke="#ee8086" stroke-width="1.7"/>
<circle cx="673.00" cy="498.68" r="4.35" fill="#f06c69" fill-opacity="0.8" stroke="#d94a70" stroke-opacity="0.55" stroke-width="0.7"/>
<text x="707.40" y="507.08" font-family="'Liberation Sans', sans-serif" font-size="25" fill="#ec5964" stroke="#ec5964" stroke-width="0.25">MD</text>
<line x1="656.80" y1="539.23" x2="689.30" y2="539.23" stroke="#6a76c0" stroke-width="1.7"/>
<circle cx="673.00" cy="539.23" r="4.35" fill="#5b69c0" fill-opacity="0.8" stroke="#3a4799" stroke-opacity="0.55" stroke-width="0.7"/>
<text x="707.40" y="547.13" font-family="'Liberation Sans', sans-serif" font-size="25" fill="#4a59a8" stroke="#4a59a8" stroke-width="0.25">VM</text>
<text transform="translate(8.35 475.35) scale(0.883 1)" font-family="'Liberation Sans', sans-serif" font-size="32" fill="#000" stroke="#000" stroke-width="0.9" stroke-linejoin="round">C</text>
</g>
<g id="panelD">
<line x1="957.70" y1="762.08" x2="1232.63" y2="694.54" stroke="#6a76c0" stroke-width="1.4"/>
<polyline points="957.70,745.90 961.18,745.36 964.66,744.82 968.14,744.27 971.62,743.73 975.10,743.18 978.58,742.62 982.06,742.07 985.54,741.51 989.02,740.94 992.50,740.37 995.98,739.80 999.46,739.22 1002.94,738.64 1006.42,738.05 1009.90,737.46 1013.38,736.86 1016.86,736.25 1020.34,735.63 1023.82,735.01 1027.30,734.38 1030.78,733.74 1034.26,733.10 1037.74,732.44 1041.22,731.77 1044.70,731.09 1048.19,730.40 1051.67,729.70 1055.15,728.99 1058.63,728.26 1062.11,727.52 1065.59,726.76 1069.07,725.99 1072.55,725.21 1076.03,724.41 1079.51,723.59 1082.99,722.75 1086.47,721.90 1089.95,721.04 1093.43,720.15 1096.91,719.26 1100.39,718.34 1103.87,717.41 1107.35,716.46 1110.83,715.50 1114.31,714.53 1117.79,713.54 1121.27,712.54 1124.75,711.53 1128.23,710.50 1131.71,709.47 1135.19,708.42 1138.67,707.36 1142.15,706.30 1145.63,705.22 1149.11,704.14 1152.59,703.05 1156.07,701.95 1159.55,700.84 1163.03,699.73 1166.51,698.61 1169.99,697.49 1173.47,696.36 1176.95,695.23 1180.43,694.09 1183.91,692.94 1187.39,691.80 1190.87,690.65 1194.35,689.49 1197.83,688.33 1201.31,687.17 1204.79,686.01 1208.27,684.84 1211.75,683.67 1215.23,682.50 1218.71,681.33 1222.19,680.15 1225.67,678.97 1229.15,677.79 1232.63,676.61" fill="none" stroke="#5d6274" stroke-width="1.5" stroke-dasharray="1.5 2.9"/>
<polyline points="957.70,778.26 961.18,777.09 964.66,775.92 968.14,774.76 971.62,773.59 975.10,772.44 978.58,771.28 982.06,770.13 985.54,768.98 989.02,767.83 992.50,766.69 995.98,765.55 999.46,764.42 1002.94,763.29 1006.42,762.17 1009.90,761.06 1013.38,759.95 1016.86,758.85 1020.34,757.75 1023.82,756.66 1027.30,755.58 1030.78,754.51 1034.26,753.45 1037.74,752.39 1041.22,751.35 1044.70,750.32 1048.19,749.30 1051.67,748.29 1055.15,747.30 1058.63,746.31 1062.11,745.35 1065.59,744.39 1069.07,743.45 1072.55,742.53 1076.03,741.62 1079.51,740.73 1082.99,739.85 1086.47,738.99 1089.95,738.15 1093.43,737.32 1096.91,736.51 1100.39,735.72 1103.87,734.94 1107.35,734.17 1110.83,733.42 1114.31,732.69 1117.79,731.96 1121.27,731.26 1124.75,730.56 1128.23,729.87 1131.71,729.20 1135.19,728.54 1138.67,727.89 1142.15,727.24 1145.63,726.61 1149.11,725.98 1152.59,725.36 1156.07,724.75 1159.55,724.15 1163.03,723.55 1166.51,722.96 1169.99,722.37 1173.47,721.79 1176.95,721.21 1180.43,720.64 1183.91,720.08 1187.39,719.51 1190.87,718.95 1194.35,718.40 1197.83,717.85 1201.31,717.30 1204.79,716.75 1208.27,716.21 1211.75,715.67 1215.23,715.13 1218.71,714.60 1222.19,714.06 1225.67,713.53 1229.15,713.00 1232.63,712.47" fill="none" stroke="#5d6274" stroke-width="1.5" stroke-dasharray="1.5 2.9"/>
<line x1="1054.32" y1="721.20" x2="1340.90" y2="591.23" stroke="#ee8086" stroke-width="1.4"/>
<polyline points="1054.32,693.40 1057.95,692.37 1061.58,691.34 1065.20,690.30 1068.83,689.26 1072.46,688.21 1076.09,687.15 1079.71,686.09 1083.34,685.03 1086.97,683.96 1090.60,682.88 1094.22,681.79 1097.85,680.69 1101.48,679.59 1105.11,678.47 1108.73,677.35 1112.36,676.21 1115.99,675.06 1119.62,673.90 1123.24,672.72 1126.87,671.52 1130.50,670.31 1134.13,669.08 1137.75,667.83 1141.38,666.56 1145.01,665.26 1148.64,663.94 1152.26,662.59 1155.89,661.22 1159.52,659.81 1163.15,658.37 1166.77,656.90 1170.40,655.39 1174.03,653.85 1177.66,652.27 1181.29,650.65 1184.91,649.00 1188.54,647.31 1192.17,645.58 1195.80,643.81 1199.42,642.01 1203.05,640.18 1206.68,638.31 1210.31,636.41 1213.93,634.49 1217.56,632.53 1221.19,630.55 1224.82,628.54 1228.44,626.51 1232.07,624.46 1235.70,622.40 1239.33,620.31 1242.95,618.20 1246.58,616.08 1250.21,613.95 1253.84,611.80 1257.46,609.65 1261.09,607.48 1264.72,605.29 1268.35,603.10 1271.97,600.91 1275.60,598.70 1279.23,596.49 1282.86,594.26 1286.48,592.04 1290.11,589.80 1293.74,587.56 1297.37,585.32 1300.99,583.07 1304.62,580.82 1308.25,578.56 1311.88,576.30 1315.50,574.03 1319.13,571.76 1322.76,569.49 1326.39,567.21 1330.01,564.93 1333.64,562.65 1337.27,560.37 1340.90,558.08" fill="none" stroke="#cf7688" stroke-width="1.5" stroke-dasharray="1.5 2.9"/>
<polyline points="1054.32,749.00 1057.95,746.74 1061.58,744.49 1065.20,742.23 1068.83,739.99 1072.46,737.74 1076.09,735.51 1079.71,733.28 1083.34,731.05 1086.97,728.83 1090.60,726.62 1094.22,724.42 1097.85,722.23 1101.48,720.04 1105.11,717.87 1108.73,715.70 1112.36,713.55 1115.99,711.41 1119.62,709.28 1123.24,707.17 1126.87,705.07 1130.50,702.99 1134.13,700.93 1137.75,698.89 1141.38,696.87 1145.01,694.88 1148.64,692.91 1152.26,690.97 1155.89,689.05 1159.52,687.17 1163.15,685.32 1166.77,683.50 1170.40,681.72 1174.03,679.97 1177.66,678.26 1181.29,676.58 1184.91,674.95 1188.54,673.35 1192.17,671.79 1195.80,670.26 1199.42,668.77 1203.05,667.31 1206.68,665.89 1210.31,664.50 1213.93,663.14 1217.56,661.80 1221.19,660.49 1224.82,659.21 1228.44,657.95 1232.07,656.71 1235.70,655.48 1239.33,654.28 1242.95,653.09 1246.58,651.92 1250.21,650.77 1253.84,649.62 1257.46,648.49 1261.09,647.37 1264.72,646.26 1268.35,645.16 1271.97,644.07 1275.60,642.98 1279.23,641.91 1282.86,640.84 1286.48,639.78 1290.11,638.72 1293.74,637.67 1297.37,636.62 1300.99,635.58 1304.62,634.54 1308.25,633.51 1311.88,632.48 1315.50,631.46 1319.13,630.44 1322.76,629.42 1326.39,628.40 1330.01,627.39 1333.64,626.38 1337.27,625.38 1340.90,624.37" fill="none" stroke="#cf7688" stroke-width="1.5" stroke-dasharray="1.5 2.9"/>
<g fill="#5b69c0" fill-opacity="0.8" stroke="#3a4799" stroke-opacity="0.55" stroke-width="0.7">
<circle cx="957.70" cy="756.62" r="4.35"/>
<circle cx="971.31" cy="743.98" r="4.35"/>
<circle cx="985.42" cy="746.51" r="4.35"/>
<circle cx="993.52" cy="749.03" r="4.35"/>
<circle cx="997.89" cy="741.45" r="4.35"/>
<circle cx="999.48" cy="756.62" r="4.35"/>
<circle cx="1007.63" cy="743.98" r="4.35"/>
<circle cx="1023.10" cy="769.26" r="4.35"/>
<circle cx="1028.56" cy="743.98" r="4.35"/>
<circle cx="1034.75" cy="718.70" r="4.35"/>
<circle cx="1035.93" cy="733.87" r="4.35"/>
<circle cx="1036.12" cy="754.09" r="4.35"/>
<circle cx="1037.94" cy="769.26" r="4.35"/>
<circle cx="1064.33" cy="721.23" r="4.35"/>
<circle cx="1072.30" cy="743.98" r="4.35"/>
<circle cx="1072.71" cy="756.62" r="4.35"/>
<circle cx="1075.44" cy="721.23" r="4.35"/>
<circle cx="1079.35" cy="741.45" r="4.35"/>
<circle cx="1080.72" cy="761.68" r="4.35"/>
<circle cx="1090.64" cy="678.25" r="4.35"/>
<circle cx="1100.60" cy="756.62" r="4.35"/>
<circle cx="1122.72" cy="743.98" r="4.35"/>
<circle cx="1124.59" cy="723.75" r="4.35"/>
<circle cx="1157.63" cy="658.02" r="4.35"/>
<circle cx="1170.74" cy="733.87" r="4.35"/>
<circle cx="1171.19" cy="731.34" r="4.35"/>
<circle cx="1179.93" cy="731.34" r="4.35"/>
<circle cx="1186.75" cy="723.75" r="4.35"/>
<circle cx="1209.96" cy="642.86" r="4.35"/>
<circle cx="1220.66" cy="695.95" r="4.35"/>
<circle cx="1221.34" cy="693.42" r="4.35"/>
<circle cx="1232.63" cy="693.42" r="4.35"/>
</g>
<g fill="#f06c69" fill-opacity="0.8" stroke="#d94a70" stroke-opacity="0.55" stroke-width="0.7">
<circle cx="1054.32" cy="680.78" r="4.35"/>
<circle cx="1054.32" cy="695.95" r="4.35"/>
<circle cx="1077.08" cy="678.25" r="4.35"/>
<circle cx="1079.72" cy="693.42" r="4.35"/>
<circle cx="1082.54" cy="754.09" r="4.35"/>
<circle cx="1098.74" cy="736.39" r="4.35"/>
<circle cx="1106.75" cy="670.66" r="4.35"/>
<circle cx="1108.48" cy="632.74" r="4.35"/>
<circle cx="1118.03" cy="645.38" r="4.35"/>
<circle cx="1122.13" cy="670.66" r="4.35"/>
<circle cx="1127.14" cy="716.17" r="4.35"/>
<circle cx="1128.50" cy="678.25" r="4.35"/>
<circle cx="1131.69" cy="655.50" r="4.35"/>
<circle cx="1140.79" cy="718.70" r="4.35"/>
<circle cx="1144.25" cy="693.42" r="4.35"/>
<circle cx="1149.89" cy="711.11" r="4.35"/>
<circle cx="1158.54" cy="655.50" r="4.35"/>
<circle cx="1161.72" cy="703.53" r="4.35"/>
<circle cx="1161.72" cy="711.11" r="4.35"/>
<circle cx="1167.87" cy="678.25" r="4.35"/>
<circle cx="1170.19" cy="632.74" r="4.35"/>
<circle cx="1178.79" cy="642.86" r="4.35"/>
<circle cx="1183.57" cy="642.86" r="4.35"/>
<circle cx="1188.71" cy="604.93" r="4.35"/>
<circle cx="1194.04" cy="640.33" r="4.35"/>
<circle cx="1196.77" cy="680.78" r="4.35"/>
<circle cx="1198.82" cy="645.38" r="4.35"/>
<circle cx="1199.04" cy="690.89" r="4.35"/>
<circle cx="1206.96" cy="718.70" r="4.35"/>
<circle cx="1209.51" cy="640.33" r="4.35"/>
<circle cx="1209.96" cy="693.42" r="4.35"/>
<circle cx="1214.42" cy="690.89" r="4.35"/>
<circle cx="1217.70" cy="698.47" r="4.35"/>
<circle cx="1220.20" cy="620.10" r="4.35"/>
<circle cx="1223.94" cy="711.11" r="4.35"/>
<circle cx="1225.71" cy="690.89" r="4.35"/>
<circle cx="1226.94" cy="690.89" r="4.35"/>
<circle cx="1227.71" cy="627.69" r="4.35"/>
<circle cx="1229.08" cy="690.89" r="4.35"/>
<circle cx="1232.72" cy="716.17" r="4.35"/>
<circle cx="1233.18" cy="630.21" r="4.35"/>
<circle cx="1259.39" cy="503.81" r="4.35"/>
<circle cx="1292.98" cy="627.69" r="4.35"/>
<circle cx="1296.57" cy="604.93" r="4.35"/>
<circle cx="1306.13" cy="620.10" r="4.35"/>
<circle cx="1306.90" cy="529.09" r="4.35"/>
<circle cx="1340.90" cy="503.81" r="4.35"/>
</g>
<g stroke="#000" stroke-width="1.85" fill="none">
<path d="M914.15 477.60V794.40"/>
<path d="M901.65 781.90H1370.17"/>
<path d="M901.65 731.34H914.15"/>
<path d="M901.65 680.78H914.15"/>
<path d="M901.65 630.21H914.15"/>
<path d="M901.65 579.65H914.15"/>
<path d="M901.65 529.09H914.15"/>
<path d="M901.65 478.53H914.15"/>
<path d="M1005.17 781.90V794.40"/>
<path d="M1096.19 781.90V794.40"/>
<path d="M1187.21 781.90V794.40"/>
<path d="M1278.23 781.90V794.40"/>
<path d="M1369.25 781.90V794.40"/>
</g>
<g font-family="'Liberation Sans', sans-serif" font-weight="bold" font-size="23" fill="#000" stroke="#000" stroke-width="0.3">
<text x="898.95" y="790.50" text-anchor="end">0</text>
<text x="898.95" y="739.94" text-anchor="end">20</text>
<text x="898.95" y="689.38" text-anchor="end">40</text>
<text x="898.95" y="638.81" text-anchor="end">60</text>
<text x="898.95" y="588.25" text-anchor="end">80</text>
<text x="898.95" y="537.69" text-anchor="end">100</text>
<text x="898.95" y="487.13" text-anchor="end">120</text>
<text x="914.55" y="819.90" text-anchor="middle">0.8</text>
<text x="1005.57" y="819.90" text-anchor="middle">1.0</text>
<text x="1096.59" y="819.90" text-anchor="middle">1.2</text>
<text x="1187.61" y="819.90" text-anchor="middle">1.4</text>
<text x="1278.63" y="819.90" text-anchor="middle">1.6</text>
<text x="1369.65" y="819.90" text-anchor="middle">1.8</text>
</g>
<g font-family="'Liberation Sans', sans-serif" font-weight="bold" font-size="25.3" fill="#000" stroke="#000" stroke-width="0.3">
<text x="1142.20" y="855.50" text-anchor="middle">Signal Intensity Ratio</text>
<text transform="translate(846.35 630.11) rotate(-90)" text-anchor="middle" font-size="25.25">Pure Tone Average (dB HL)</text>
</g>
<text font-family="'Liberation Sans', sans-serif" font-size="12.5" fill="#e0707f" stroke="#e0707f" stroke-width="0.2" y="491.18"><tspan x="937.65">β=81.980</tspan><tspan x="998.25">R²=0.336</tspan><tspan x="1057.65">P<0.001</tspan></text>
<text font-family="'Liberation Sans', sans-serif" font-size="12.5" fill="#606eae" stroke="#606eae" stroke-width="0.2" y="520.93"><tspan x="937.65">β=43.642</tspan><tspan x="998.25">R²=0.414</tspan><tspan x="1057.65">P<0.001</tspan></text>
<line x1="1438.75" y1="498.68" x2="1471.25" y2="498.68" stroke="#ee8086" stroke-width="1.7"/>
<circle cx="1454.95" cy="498.68" r="4.35" fill="#f06c69" fill-opacity="0.8" stroke="#d94a70" stroke-opacity="0.55" stroke-width="0.7"/>
<text x="1489.75" y="507.08" font-family="'Liberation Sans', sans-serif" font-size="25" fill="#ec5964" stroke="#ec5964" stroke-width="0.25">MD</text>
<line x1="1438.75" y1="539.23" x2="1471.25" y2="539.23" stroke="#6a76c0" stroke-width="1.7"/>
<circle cx="1454.95" cy="539.23" r="4.35" fill="#5b69c0" fill-opacity="0.8" stroke="#3a4799" stroke-opacity="0.55" stroke-width="0.7"/>
<text x="1489.75" y="547.13" font-family="'Liberation Sans', sans-serif" font-size="25" fill="#4a59a8" stroke="#4a59a8" stroke-width="0.25">VM</text>
<text transform="translate(790.90 475.25) scale(1 1)" font-family="'Liberation Sans', sans-serif" font-size="32" fill="#000" stroke="#000" stroke-width="0.9" stroke-linejoin="round">D</text>
</g>
</svg>
</body>
</html>
